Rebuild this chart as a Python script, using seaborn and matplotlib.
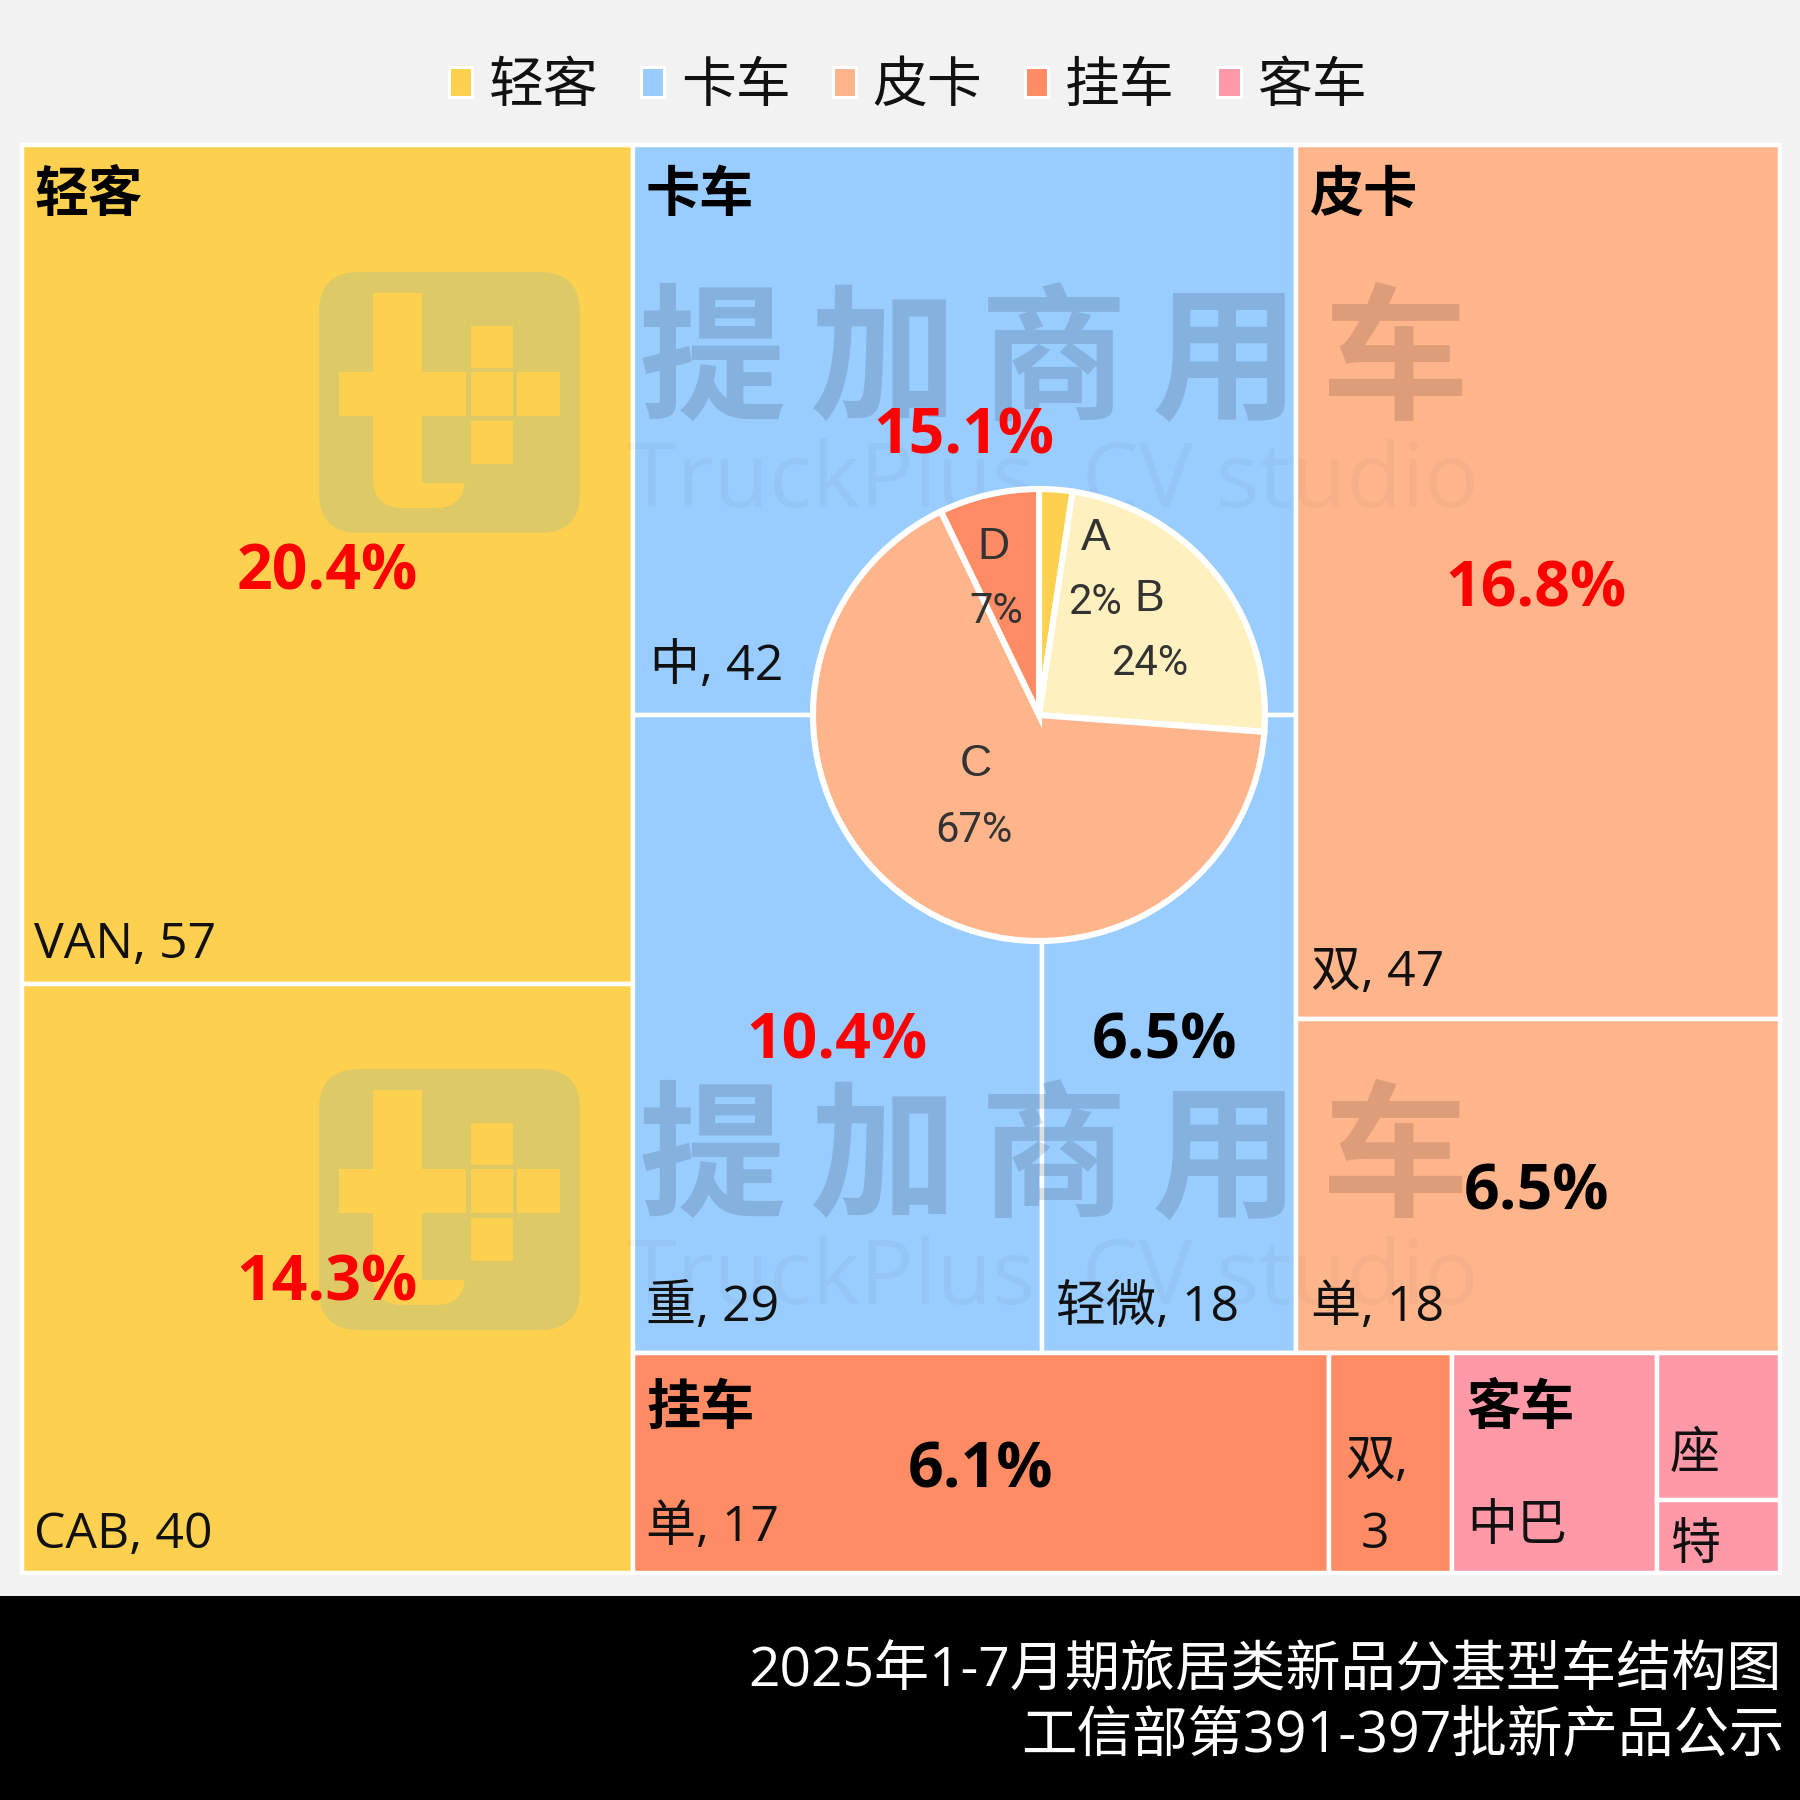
import matplotlib
matplotlib.use('Agg')
import matplotlib.pyplot as plt
import seaborn as sns
from matplotlib.patches import FancyBboxPatch, Patch

# 基型车数量
qingke_names = ['VAN', 'CAB']
qingke_vals = [57, 40]
kache_names = ['中', '重', '轻微']
kache_vals = [42, 29, 18]
pika_names = ['双', '单']
pika_vals = [47, 18]
guache_names = ['单', '双']
guache_vals = [17, 3]
keche_names = ['中巴', '座', '特']
keche_vals = [5, 2, 1]

groups = ['轻客', '卡车', '皮卡', '挂车', '客车']
colors = ['#FDD14F', '#99CCFF', '#FFB58C', '#FF8C64', '#FF99A8']

pie_names = ['A', 'B', 'C', 'D']
pie_vals = [1, 10, 28, 3]
pie_pct = ['2%', '24%', '67%', '7%']
pie_colors = ['#FDD14F', '#FFF0C0', '#FFB58C', '#FF8C64']

title_lines = ['2025年1-7月期旅居类新品分基型车结构图', '工信部第391-397批新产品公示']

sns.set_theme(style='white')
FONT = ['Open Sans', 'Noto Sans CJK SC']
plt.rcParams['font.family'] = FONT
palette = sns.color_palette(colors)

fig = plt.figure(figsize=(18, 18), dpi=100, facecolor='#F2F2F2')
ax = fig.add_axes([0, 0, 1, 1])
ax.set_xlim(0, 1800)
ax.set_ylim(1800, 0)
ax.axis('off')

# 树图范围
X0, X1, Y0, Y1 = 22, 1780, 145, 1573
W, H = X1 - X0, Y1 - Y0
total = sum(qingke_vals) + sum(kache_vals) + sum(pika_vals) + sum(guache_vals) + sum(keche_vals)


def cell(x, y, w, h, c):
    ax.bar(x, h, w, bottom=y, align='edge', color=c, edgecolor='white', linewidth=3.2, zorder=1)


# 轻客一列
w1 = W * sum(qingke_vals) / total
h_van = H * qingke_vals[0] / sum(qingke_vals)
cell(X0, Y0, w1, h_van, palette[0])
cell(X0, Y0 + h_van, w1, H - h_van, palette[0])

# 右边上下两块
x2 = X0 + w1
w2 = W - w1
top_sum = sum(kache_vals) + sum(pika_vals)
low_sum = sum(guache_vals) + sum(keche_vals)
h_top = H * top_sum / (top_sum + low_sum)
h_low = H - h_top

# 卡车
w_ka = w2 * sum(kache_vals) / top_sum
h_zhong = h_top * kache_vals[0] / sum(kache_vals)
cell(x2, Y0, w_ka, h_zhong, palette[1])
w_zhong = w_ka * kache_vals[1] / (kache_vals[1] + kache_vals[2])
cell(x2, Y0 + h_zhong, w_zhong, h_top - h_zhong, palette[1])
cell(x2 + w_zhong, Y0 + h_zhong, w_ka - w_zhong, h_top - h_zhong, palette[1])

# 皮卡
x3 = x2 + w_ka
w_pi = w2 - w_ka
h_shuang = h_top * pika_vals[0] / sum(pika_vals)
cell(x3, Y0, w_pi, h_shuang, palette[2])
cell(x3, Y0 + h_shuang, w_pi, h_top - h_shuang, palette[2])

# 挂车
y4 = Y0 + h_top
w_gua = w2 * sum(guache_vals) / low_sum
w_dan = w_gua * guache_vals[0] / sum(guache_vals)
cell(x2, y4, w_dan, h_low, palette[3])
cell(x2 + w_dan, y4, w_gua - w_dan, h_low, palette[3])

# 客车
x5 = x2 + w_gua
w_ke = w2 - w_gua
w_zb = w_ke * keche_vals[0] / sum(keche_vals)
h_zuo = h_low * keche_vals[1] / (keche_vals[1] + keche_vals[2])
cell(x5, y4, w_zb, h_low, palette[4])
cell(x5 + w_zb, y4, w_ke - w_zb, h_zuo, palette[4])
cell(x5 + w_zb, y4 + h_zuo, w_ke - w_zb, h_low - h_zuo, palette[4])


# 水印
def watermark(dy):
    ax.add_patch(FancyBboxPatch((355, 272 + dy + 36), 189, 189, boxstyle='round,pad=36,rounding_size=40',
                                fc='#DDCA66', ec='none', zorder=2))
    y_color = palette[0]
    for (a, b, c, d) in [(339, 372, 80, 44), (422, 372, 44, 44), (471, 372, 42, 44), (517, 372, 43, 44),
                         (471, 326, 42, 42), (471, 421, 42, 43)]:
        ax.add_patch(FancyBboxPatch((a, b + dy), c, d, boxstyle='square,pad=0', fc=y_color, ec='none', zorder=3))
    ax.add_patch(FancyBboxPatch((373, 293 + dy), 49, 180, boxstyle='square,pad=0', fc=y_color, ec='none', zorder=3))
    ax.add_patch(FancyBboxPatch((373, 440 + dy), 92, 68, boxstyle='round,pad=0,rounding_size=30', fc=y_color, ec='none', zorder=3))
    ax.add_patch(FancyBboxPatch((422, 440 + dy), 43, 43, boxstyle='square,pad=0', fc='#DDCA66', ec='none', zorder=3))
    for i, ch in enumerate('提加商用车'):
        ax.text(712 + i * 171, 365 + dy, ch, fontsize=106, fontweight='black', family='Noto Sans CJK SC',
                color='black', alpha=0.13, ha='center', va='center', zorder=4)
    ax.text(1053, 484 + dy, 'TruckPlus  CV studio', fontsize=65, color='black', alpha=0.03,
            ha='center', va='center', zorder=4)


watermark(0)
watermark(797)


def name(x, y, s, **kw):
    ax.text(x, y + 5, s, fontsize=36, color='#111111', ha=kw.pop('ha', 'left'), va='center', zorder=6, **kw)


def head(x, y, s):
    ax.text(x, y + 5, s, fontsize=39, fontweight='bold', color='black', ha='left', va='center', zorder=6)


def pct(x, y, s, c='red'):
    ax.text(x, y + 5, s, fontsize=45, fontweight='bold', color=c, ha='center', va='center', zorder=6)


for x, y, s in [(34, 192, groups[0]), (646, 192, groups[1]), (1310, 192, groups[2]),
                (646, 1405, groups[3]), (1467, 1405, groups[4])]:
    head(x, y, s)

name(34, 940, f'{qingke_names[0]}, {qingke_vals[0]}')
name(34, 1530, f'{qingke_names[1]}, {qingke_vals[1]}')
name(650, 662, f'{kache_names[0]}, {kache_vals[0]}')
name(646, 1303, f'{kache_names[1]}, {kache_vals[1]}')
name(1056, 1303, f'{kache_names[2]}, {kache_vals[2]}')
name(1311, 968, f'{pika_names[0]}, {pika_vals[0]}')
name(1311, 1303, f'{pika_names[1]}, {pika_vals[1]}')
name(646, 1523, f'{guache_names[0]}, {guache_vals[0]}')
name(1345, 1457, f'{guache_names[1]},')
name(1375, 1530, f'{guache_vals[1]}', ha='center')
name(1467, 1522, keche_names[0])
name(1670, 1450, keche_names[1])
name(1670, 1541, keche_names[2])

for x, y, v in [(327, 568, qingke_vals[0]), (327, 1279, qingke_vals[1]), (964, 432, kache_vals[0]),
                (837, 1037, kache_vals[1]), (1165, 1037, kache_vals[2]), (1536, 585, pika_vals[0]),
                (1536, 1188, pika_vals[1]), (980, 1466, guache_vals[0])]:
    share = v / total * 100
    pct(x, y, f'{share:.1f}%', 'red' if share > 10 else 'black')

# 图例
handles = [Patch(facecolor=c, edgecolor='white', linewidth=2.2, label=g) for c, g in zip(palette, groups)]
leg = ax.legend(handles=handles, ncol=5, loc='center', bbox_to_anchor=(908, 87), bbox_transform=ax.transData,
                frameon=False, fontsize=39.5, handlelength=0.42, handleheight=0.45, handletextpad=0.3,
                columnspacing=0.78, borderpad=0)
for t in leg.get_texts():
    t.set_color('#111111')

# 底部黑条
ax.bar(0, 205, 1800, bottom=1596, align='edge', color='black', edgecolor='none', zorder=5)
ax.text(1782, 1672, title_lines[0], fontsize=39.7, color='white', ha='right', va='center', zorder=6)
ax.text(1785, 1737, title_lines[1], fontsize=40, color='white', ha='right', va='center', zorder=6)

# 饼图
cx, cy, r = 1039, 715, 226
pie_ax = fig.add_axes([(cx - r) / 1800, 1 - (cy + r) / 1800, 2 * r / 1800, 2 * r / 1800])
pie_ax.pie(pie_vals, colors=pie_colors, startangle=90, counterclock=False,
           wedgeprops={'edgecolor': 'white', 'linewidth': 4.4, 'clip_on': False})
pie_ax.set_xlim(-1, 1)
pie_ax.set_ylim(-1, 1)

for (x, y), s in zip([(0.25, 0.78), (0.49, 0.51), (-0.28, -0.22), (-0.20, 0.74)], pie_names):
    pie_ax.text(x, y, s, fontsize=32, family='Liberation Sans', color='#333333', ha='center', va='center')
for (x, y), s in zip([(0.25, 0.50), (0.49, 0.23), (-0.29, -0.51), (-0.19, 0.46)], pie_pct):
    pie_ax.text(x, y, s, fontsize=30, family='Roboto', color='#333333', ha='center', va='center')

fig.savefig('out.png', dpi=100, facecolor=fig.get_facecolor())
